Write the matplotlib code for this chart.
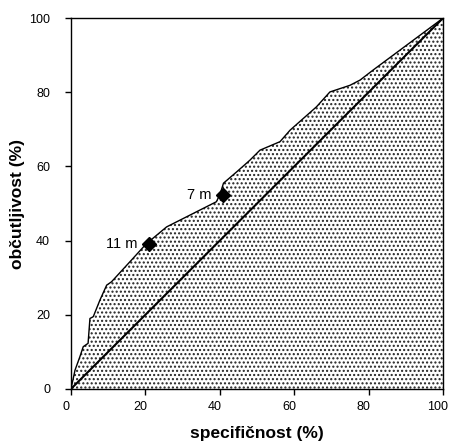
import matplotlib
matplotlib.use("Agg")
import matplotlib.pyplot as plt
import matplotlib.transforms as mtransforms

plt.rcParams['font.family'] = ['Liberation Sans', 'DejaVu Sans']
plt.rcParams['hatch.linewidth'] = 1.0

spec = [0, 1.1, 2.4, 3.3, 4.6, 5.1, 6.0, 7.8, 9.6, 10.9, 16.3, 20.2, 25.7, 39.1, 40.1, 41.0, 44.6,
        48.1, 50.8, 56.2, 58.9, 66.0, 69.6, 75.0, 77.7, 81.2, 100]
sens = [0, 5.1, 8.7, 11.4, 12.3, 19.0, 19.5, 24.0, 28.0, 28.9, 34.8, 39.1, 43.7, 50.5, 52.6, 55.5, 58.6,
        61.7, 64.4, 66.7, 69.8, 76.1, 80.1, 81.9, 83.3, 86.0, 100]

pt_labels = ["11 m", "7 m"]
pt_spec = [21.0, 40.8]
pt_sens = [39.0, 52.3]

fig = plt.figure(figsize=(4.52, 4.44), dpi=100)
ax = fig.add_axes([0.157, 0.124, 0.823, 0.835])

ax.fill_between(spec, 0, sens, facecolor='white', edgecolor='#222222', hatch='....', linewidth=0)
ax.plot(spec, sens, color='black', lw=1.0)
ax.plot([0, 100], [0, 100], color='black', lw=1.5)
ax.plot(pt_spec, pt_sens, linestyle='none', marker='D', color='black', markersize=7.5)
for lab, x, y in zip(pt_labels, pt_spec, pt_sens):
    ax.text(x - 3.0, y, lab, ha='right', va='center', fontsize=10.5)

ax.set_xlim(0, 100)
ax.set_ylim(0, 100)
ax.set_xticks(range(0, 101, 20))
ax.set_yticks(range(0, 101, 20))
ax.tick_params(direction='out', length=4, width=1, labelsize=9)
ax.tick_params(axis='x', pad=5)
ax.tick_params(axis='y', pad=11)
shift = mtransforms.ScaledTranslation(-5 / 100, 0, fig.dpi_scale_trans)
for lbl in ax.get_xticklabels():
    lbl.set_transform(lbl.get_transform() + shift)
for s in ax.spines.values():
    s.set_linewidth(1.0)
ax.set_xlabel('specifičnost (%)', fontsize=12.5, fontweight='bold', labelpad=9)
ax.set_ylabel('občutljivost (%)', fontsize=12.5, fontweight='bold', labelpad=3)

fig.savefig('out.png', dpi=100)
